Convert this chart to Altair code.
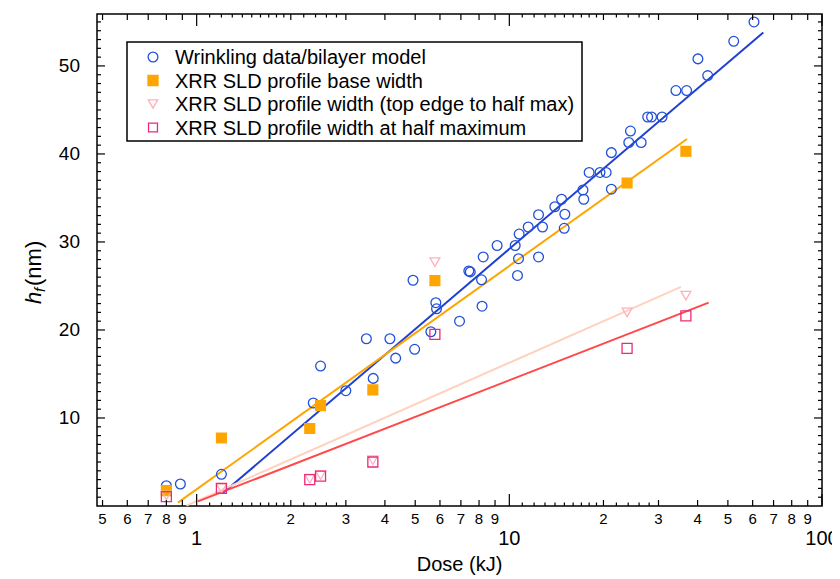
import altair as alt
import pandas as pd

FONT = "Liberation Sans"

# ---- data ----
series_names = [
    "Wrinkling data/bilayer model",
    "XRR SLD profile base width",
    "XRR SLD profile width (top edge to half max)",
    "XRR SLD profile width at half maximum",
]

wr_x = [0.80, 0.887, 1.20, 2.36, 2.49, 3.00, 3.49, 3.67, 4.15, 4.33, 4.92, 4.98,
        5.61, 5.82, 5.85, 6.93, 7.42, 7.50, 8.15, 8.18, 8.25, 9.14, 10.44, 10.62,
        10.70, 10.75, 11.49, 12.40, 12.40, 12.77, 13.98, 14.69, 14.98, 15.05, 17.2,
        17.3, 18.0, 19.5, 20.4, 21.2, 21.2, 24.1, 24.4, 26.4, 27.7, 28.5, 30.8,
        34.1, 36.9, 40.1, 43.1, 52.2, 60.6]
wr_y = [2.3, 2.5, 3.6, 11.7, 15.9, 13.1, 19.0, 14.5, 19.0, 16.8, 25.65, 17.8,
        19.8, 23.1, 22.4, 21.0, 26.7, 26.6, 25.7, 22.7, 28.3, 29.6, 29.6, 26.2,
        28.1, 30.9, 31.7, 33.1, 28.3, 31.7, 34.0, 34.85, 31.55, 33.15, 35.9,
        34.85, 37.9, 37.9, 37.9, 36.0, 40.15, 41.3, 42.6, 41.3, 44.2, 44.2, 44.2,
        47.2, 47.2, 50.8, 48.9, 52.8, 55.0]

xrr_x = [0.80, 1.20, 2.30, 2.49, 3.66, 5.78, 23.8, 36.7]
base_y = [1.74, 7.73, 8.8, 11.4, 13.2, 25.6, 36.7, 40.3]
top_y = [1.2, 2.0, 3.1, 3.5, 5.2, 27.7, 22.0, 23.9]
half_y = [1.06, 2.0, 3.0, 3.4, 5.0, 19.5, 17.9, 21.6]

# fitted lines (end points)
fit_x0 = [1.21, 0.871, 0.927, 1.01]
fit_x1 = [64.9, 37.0, 35.4, 43.4]
fit_y0 = [1.44, 0.38, 0.05, 0.53]
fit_y1 = [53.8, 41.7, 24.9, 23.1]

# axis ticks / labels
x_decades = [1, 10, 100]
x_decade_labels = ["1", "10", "100"]
x_ints = [0.5, 0.6, 0.7, 0.8, 0.9, 2, 3, 4, 5, 6, 7, 8, 9,
          20, 30, 40, 50, 60, 70, 80, 90]
x_int_labels = ["5", "6", "7", "8", "9", "2", "3", "4", "5", "6", "7", "8", "9",
                "2", "3", "4", "5", "6", "7", "8", "9"]
x_minor = [1.1, 1.2, 1.3, 1.4, 1.5, 1.6, 1.7, 1.8, 1.9, 2.2, 2.4, 2.6, 2.8,
           11, 12, 13, 14, 15, 16, 17, 18, 19, 22, 24, 26, 28]
y_major = [10, 20, 30, 40, 50]
y_major_labels = ["10", "20", "30", "40", "50"]
y_minor = [v for v in range(1, 56) if v % 10 != 0]
x_title = "Dose (kJ)"
y_title_parts = ["h", "f", "(nm)"]

# ---- styles ----
stroke_cols = ["#2250d8", "#ffa500", "#ffb0b8", "#ec2a7a"]
fill_cols = ["transparent", "#ffa500", "transparent", "transparent"]
shapes = ["circle", "square", "triangle-down", "square"]
sizes = [95, 100, 90, 50]
legend_sizes = [95, 100, 90, 80]
line_cols = ["#1f3fd0", "#ffa500", "#ffd2c0", "#ff4848"]

W, H = 725, 492

pts = pd.concat([
    pd.DataFrame({"x": wr_x, "y": wr_y, "series": series_names[0]}),
    pd.DataFrame({"x": xrr_x, "y": base_y, "series": series_names[1]}),
    pd.DataFrame({"x": xrr_x, "y": top_y, "series": series_names[2]}),
    pd.DataFrame({"x": xrr_x, "y": half_y, "series": series_names[3]}),
], ignore_index=True)

fits = pd.DataFrame({
    "series": series_names * 2,
    "x": fit_x0 + fit_x1,
    "y": fit_y0 + fit_y1,
})

xs = alt.Scale(type="log", domain=[0.48, 100], nice=False)
ys = alt.Scale(domain=[0, 55.9], nice=False, zero=False)

lines = alt.Chart(fits).mark_line(strokeWidth=2).encode(
    x=alt.X("x:Q", scale=xs, axis=None),
    y=alt.Y("y:Q", scale=ys, axis=None),
    color=alt.Color("series:N", scale=alt.Scale(domain=series_names, range=line_cols), legend=None),
)

points = alt.Chart(pts).mark_point(opacity=1, strokeWidth=1.3).encode(
    x=alt.X("x:Q", scale=xs, axis=None),
    y=alt.Y("y:Q", scale=ys, axis=None),
    stroke=alt.Stroke("series:N", scale=alt.Scale(domain=series_names, range=stroke_cols), legend=None),
    fill=alt.Fill("series:N", scale=alt.Scale(domain=series_names, range=fill_cols), legend=None),
    shape=alt.Shape("series:N", scale=alt.Scale(domain=series_names, range=shapes), legend=None),
    size=alt.Size("series:N", scale=alt.Scale(domain=series_names, range=sizes), legend=None),
)


# inward frame ticks, placed through the x / y scales
def xticks(values, length, side):
    df = pd.DataFrame({"v": values})
    if side == "bottom":
        yv, off = alt.value("height"), -length / 2
    else:
        yv, off = alt.value(0), length / 2
    return alt.Chart(df).mark_tick(orient="vertical", size=length, thickness=1.2,
                                   color="black", opacity=1, yOffset=off).encode(
        x=alt.X("v:Q", scale=xs, axis=None), y=yv)


def yticks(values, length, side):
    df = pd.DataFrame({"v": values})
    if side == "left":
        xv, off = alt.value(0), length / 2
    else:
        xv, off = alt.value("width"), -length / 2
    return alt.Chart(df).mark_tick(orient="horizontal", size=length, thickness=1.2,
                                   color="black", opacity=1, xOffset=off).encode(
        y=alt.Y("v:Q", scale=ys, axis=None), x=xv)


tick_layers = []
for side in ["bottom", "top"]:
    tick_layers += [xticks(x_decades, 12, side), xticks(x_ints, 6, side), xticks(x_minor, 3.5, side)]
for side in ["left", "right"]:
    tick_layers += [yticks(y_major, 8, side), yticks(y_minor, 4, side)]

# tick labels (text placed through the scales)
lab_small = alt.Chart(pd.DataFrame({"v": x_ints, "t": x_int_labels})).mark_text(
    font=FONT, fontSize=15, color="black", baseline="middle", align="center", dy=13).encode(
    x=alt.X("v:Q", scale=xs, axis=None), y=alt.value("height"), text="t:N")
lab_big = alt.Chart(pd.DataFrame({"v": x_decades, "t": x_decade_labels})).mark_text(
    font=FONT, fontSize=20, color="black", baseline="middle", align="center", dy=33).encode(
    x=alt.X("v:Q", scale=xs, axis=None), y=alt.value("height"), text="t:N")
lab_y = alt.Chart(pd.DataFrame({"v": y_major, "t": y_major_labels})).mark_text(
    font=FONT, fontSize=19, color="black", baseline="middle", align="right", dx=-17).encode(
    y=alt.Y("v:Q", scale=ys, axis=None), x=alt.value(0), text="t:N")

x_title_layer = alt.Chart(pd.DataFrame({"t": [x_title]})).mark_text(
    font=FONT, fontSize=20, color="black", baseline="middle", align="center").encode(
    text="t:N", x=alt.value(W / 2), y=alt.value(H + 59))

title_df = pd.DataFrame({"t": y_title_parts})
t_h = alt.Chart(title_df.iloc[[0]]).mark_text(angle=270, align="left", baseline="alphabetic",
                                             font=FONT, fontSize=22, fontStyle="italic", color="black").encode(
    text="t:N", x=alt.value(-56), y=alt.value(290))
t_f = alt.Chart(title_df.iloc[[1]]).mark_text(angle=270, align="left", baseline="alphabetic",
                                             font=FONT, fontSize=15, fontStyle="italic", color="black").encode(
    text="t:N", x=alt.value(-52), y=alt.value(278))
t_nm = alt.Chart(title_df.iloc[[2]]).mark_text(angle=270, align="left", baseline="alphabetic",
                                              font=FONT, fontSize=22, color="black").encode(
    text="t:N", x=alt.value(-56), y=alt.value(272))

# legend box (drawn as marks)
leg_left, leg_top, leg_right, leg_bottom = 30, 28, 485, 127
leg_row0, leg_row_step, leg_sym_x, leg_txt_x = 43, 23.5, 56, 78
legend_layers = [
    alt.Chart(pd.DataFrame({"t": ["legend"]})).mark_rect(
        fill="white", stroke="black", strokeWidth=1.5).encode(
        x=alt.value(leg_left), x2=alt.value(leg_right),
        y=alt.value(leg_top), y2=alt.value(leg_bottom))
]
for i, name in enumerate(series_names):
    row_df = pd.DataFrame({"series": [name]})
    yy = leg_row0 + i * leg_row_step
    legend_layers.append(
        alt.Chart(row_df).mark_point(shape=shapes[i], size=legend_sizes[i], stroke=stroke_cols[i],
                                     fill=fill_cols[i], opacity=1, strokeWidth=1.3).encode(
            x=alt.value(leg_sym_x), y=alt.value(yy)))
    legend_layers.append(
        alt.Chart(row_df).mark_text(font=FONT, fontSize=20, color="black", align="left",
                                    baseline="middle").encode(
            text="series:N", x=alt.value(leg_txt_x), y=alt.value(yy + 1)))

chart = alt.layer(
    lines, points, *tick_layers, lab_small, lab_big, lab_y, x_title_layer,
    t_h, t_f, t_nm, *legend_layers
).properties(
    width=W, height=H,
    autosize=alt.AutoSizeParams(type="none"),
    padding={"left": 89, "top": 6, "right": 10, "bottom": 71},
).configure_view(
    stroke="black", strokeWidth=1.5
)

chart.save("out.html", embed_options={"renderer": "svg", "actions": False})
